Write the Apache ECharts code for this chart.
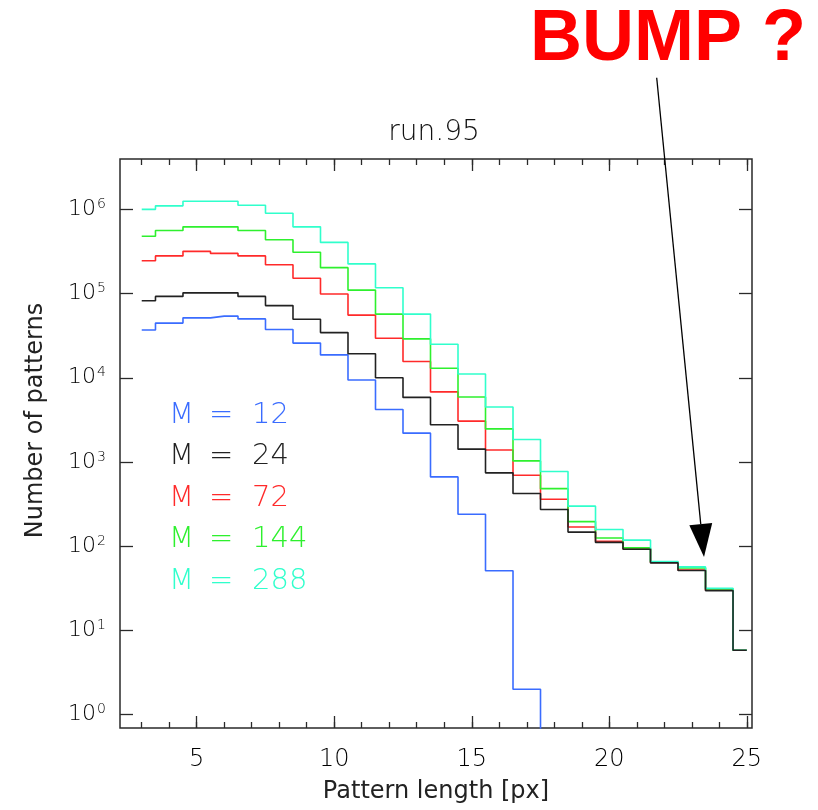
<!DOCTYPE html>
<html>
<head>
<meta charset="utf-8">
<script src="https://cdn.jsdelivr.net/npm/echarts@6/dist/echarts.min.js"></script>
<style>html,body{margin:0;padding:0;background:#fff;}#c{width:818px;height:810px;}</style>
</head>
<body>
<div id="c"></div>
<script>
// Pattern length bins (x values)
const lengths = [3,4,5,6,7,8,9,10,11,12,13,14,15,16,17,18,19,20,21,22,23,24,25];
// Number of patterns per series (0 = empty bin)
const m12  = [3.7e4,4.46e4,5.15e4,5.4e4,5.0e4,3.75e4,2.58e4,1.87e4,9.4e3,4.2e3,2.2e3,665,240,51,2,0,0,0,0,0,0,0,0];
const m24  = [8.2e4,9.25e4,1.02e5,1.02e5,9.25e4,7.2e4,4.95e4,3.44e4,1.93e4,1.0e4,5.85e3,2.77e3,1.42e3,743,423,273,147,111,92,63.3,51.4,29.7,5.8];
const m72  = [2.45e5,2.8e5,3.17e5,3.0e5,2.8e5,2.2e5,1.52e5,9.9e4,5.55e4,2.95e4,1.56e4,6.8e3,3.06e3,1.39e3,697,361,169,114,93,64,52,30,5.8];
const m144 = [4.8e5,5.6e5,6.2e5,6.2e5,5.6e5,4.35e5,3.1e5,2.03e5,1.10e5,5.7e4,2.9e4,1.3e4,5.9e3,2.47e3,1.03e3,482,196,125,95.5,65,55,31,5.8];
const m288 = [1.0e6,1.1e6,1.25e6,1.25e6,1.12e6,9.0e5,6.2e5,4.05e5,2.25e5,1.17e5,5.7e4,2.5e4,1.11e4,4.5e3,1.85e3,771,299,158,118,65.8,56.8,31.7,5.8];
const seriesNames = ['M = 12','M = 24','M = 72','M = 144','M = 288'];
const seriesColors = ['#3a6cff','#222222','#ff2a2a','#2ef02e','#30ffcc'];
const seriesValues = [m12, m24, m72, m144, m288];
// Tick values
const xMajorTicks = [5,10,15,20,25];
const xMinorTicks = [3,4,5,6,7,8,9,10,11,12,13,14,15,16,17,18,19,20,21,22,23,24,25];
const yTicks = [1,10,100,1000,10000,100000,1000000];

const chart = echarts.init(document.getElementById('c'), null, {renderer:'canvas'});
const FONT = 'DejaVu Sans';
const AX = '#2a2a2a';
const X_MIN = 2.21, X_MAX = 25.19;
const Y_MIN = Math.pow(10,-0.159), Y_MAX = Math.pow(10,6.598);

function xAxisDef(pos, ticks, len, labels, name){
  return {
    type:'value', min:X_MIN, max:X_MAX, position:pos,
    axisLine:{show:false}, splitLine:{show:false},
    axisTick:{show:true, inside:true, length:len, customValues:ticks, lineStyle:{color:AX,width:1.3}},
    axisLabel:{show:labels, customValues:xMajorTicks, margin:20, fontFamily:FONT, fontSize:24, fontWeight:200, color:'#000'},
    name: name || '', nameLocation:'middle', nameGap:52,
    nameTextStyle:{fontFamily:FONT, fontSize:24, color:'#222'}
  };
}
function yAxisDef(pos, labels, name){
  return {
    type:'log', logBase:10, min:Y_MIN, max:Y_MAX, position:pos,
    axisLine:{show:false}, splitLine:{show:false}, minorTick:{show:false},
    axisTick:{show:true, inside:true, length:13, customValues:yTicks, lineStyle:{color:AX,width:1.3}},
    axisLabel:{show:labels, customValues:yTicks, margin:14, fontFamily:FONT, fontSize:22, fontWeight:200, color:'#000',
      formatter:function(v){return '10{s|'+Math.round(Math.log10(v))+'}';},
      rich:{s:{fontSize:14, fontFamily:FONT, fontWeight:200, color:'#000', verticalAlign:'top', padding:[0,0,10,1]}}},
    name: name || '', nameLocation:'middle', nameGap:72, nameRotate:90,
    nameTextStyle:{fontFamily:FONT, fontSize:24, color:'#222', padding:[0,0,0,46]}
  };
}

const series = seriesNames.map(function(n,k){
  return {
    name:n, type:'line', step:'middle', showSymbol:false, symbol:'none', clip:true,
    xAxisIndex:0, yAxisIndex:0, z: k===1 ? 10 : 3+k,
    lineStyle:{color:seriesColors[k], width:1.6},
    itemStyle:{color:seriesColors[k]},
    data: lengths.map(function(x,i){ const v = seriesValues[k][i]; return [x, v>0 ? v : 1e-3]; })
  };
});

// arrow geometry
const tail=[656.7,77.7], tip=[704,557];
const dx=tip[0]-tail[0], dy=tip[1]-tail[1], L=Math.sqrt(dx*dx+dy*dy), ux=dx/L, uy=dy/L;
const headLen=33, headHalf=11.5;
const bx=tip[0]-ux*headLen, by=tip[1]-uy*headLen;

chart.setOption({
  animation:false,
  backgroundColor:'#fff',
  grid:{left:120, right:66, top:159, bottom:82, show:true, borderColor:AX, borderWidth:1.5, backgroundColor:'transparent'},
  xAxis:[
    xAxisDef('bottom', xMajorTicks, 12, true, 'Pattern length [px]'),
    xAxisDef('bottom', xMinorTicks, 6, false),
    xAxisDef('top', xMajorTicks, 12, false),
    xAxisDef('top', xMinorTicks, 6, false)
  ],
  yAxis:[
    yAxisDef('left', true, 'Number of patterns'),
    yAxisDef('right', false)
  ],
  legend:{
    orient:'vertical', left:159, top:395, itemWidth:0, itemHeight:0, itemGap:11.6, icon:'rect',
    selectedMode:false,
    data: seriesNames.map(function(n,k){return {name:n, textStyle:{color:seriesColors[k]}};}),
    formatter:function(n){ const p=n.split(' = '); return '{a|'+p[0]+'}{b|=}{c|'+p[1]+'}'; },
    textStyle:{fontFamily:FONT, fontSize:29, fontWeight:200, lineHeight:30,
      rich:{a:{width:40, fontSize:29, fontFamily:FONT, fontWeight:200}, b:{width:43, fontSize:29, fontFamily:FONT, fontWeight:200}, c:{fontSize:29, fontFamily:FONT, fontWeight:200}}}
  },
  graphic:[
    {type:'text', x:434, y:133, style:{text:'run.95', font:'200 28px "DejaVu Sans"', fill:'#111', textAlign:'center', textVerticalAlign:'middle'}},
    {type:'text', x:668, y:40, style:{text:'BUMP ?', font:'bold 72px "Liberation Sans"', fill:'#ff0000', textAlign:'center', textVerticalAlign:'middle'}, z:100},
    {type:'line', shape:{x1:tail[0], y1:tail[1], x2:bx, y2:by}, style:{stroke:'#000', lineWidth:1.3}, z:100},
    {type:'polygon', shape:{points:[[bx-uy*headHalf, by+ux*headHalf],[bx+uy*headHalf, by-ux*headHalf],[tip[0],tip[1]]]}, style:{fill:'#000'}, z:100}
  ],
  series:series
});
</script>
</body>
</html>
